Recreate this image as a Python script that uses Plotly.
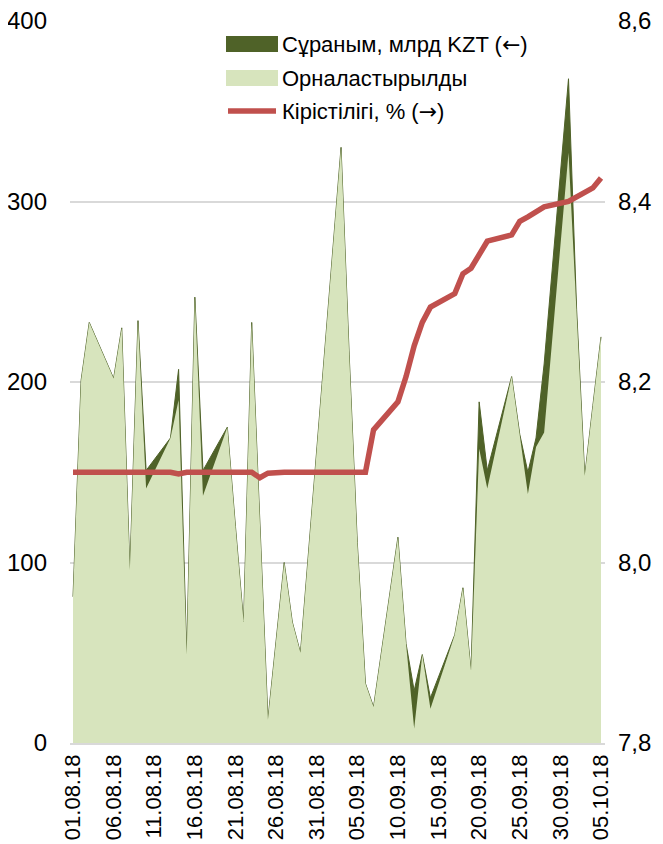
import plotly.graph_objects as go

dates = ["2018-08-01", "2018-08-02", "2018-08-03", "2018-08-06", "2018-08-07", "2018-08-08",
         "2018-08-09", "2018-08-10", "2018-08-13", "2018-08-14", "2018-08-15", "2018-08-16",
         "2018-08-17", "2018-08-20", "2018-08-21", "2018-08-22", "2018-08-23", "2018-08-24",
         "2018-08-25", "2018-08-27", "2018-08-28", "2018-08-29", "2018-09-03", "2018-09-04",
         "2018-09-05", "2018-09-06", "2018-09-07", "2018-09-10", "2018-09-11", "2018-09-12",
         "2018-09-13", "2018-09-14", "2018-09-17", "2018-09-18", "2018-09-19", "2018-09-20",
         "2018-09-21", "2018-09-24", "2018-09-25", "2018-09-26", "2018-09-27", "2018-09-28",
         "2018-10-01", "2018-10-02", "2018-10-03", "2018-10-04", "2018-10-05"]

demand = [81, 201, 233, 202, 230, 96, 234, 151, 169, 207, 49, 247, 151, 175, 120, 67, 233, 125,
          13, 100, 67, 50, 330, 215, 111, 33, 20, 114, 55, 29, 49, 25, 60, 86, 40, 189, 151, 203,
          171, 150, 169, 210, 368, 240, 148, 187, 225]

placed = [81, 201, 233, 202, 230, 96, 234, 141, 169, 190, 49, 247, 137, 175, 120, 67, 233, 125,
          13, 100, 67, 50, 330, 215, 111, 33, 20, 114, 55, 8, 49, 19, 60, 86, 40, 163, 141, 203,
          171, 138, 164, 172, 327, 238, 148, 187, 225]

yield_pct = [8.10, 8.10, 8.10, 8.10, 8.10, 8.10, 8.10, 8.10, 8.10, 8.098, 8.10, 8.10, 8.10, 8.10,
             8.10, 8.10, 8.10, 8.094, 8.099, 8.10, 8.10, 8.10, 8.10, 8.10, 8.10, 8.10, 8.147,
             8.178, 8.206, 8.24, 8.266, 8.283, 8.298, 8.32, 8.326, 8.34, 8.356, 8.363, 8.378,
             8.383, 8.389, 8.394, 8.40, 8.405, 8.41, 8.415, 8.426]

names = ["Сұраным, млрд KZT (←)", "Орналастырылды", "Кірістілігі, % (→)"]

DARK = "#4f6228"
LIGHT = "#d7e4bd"
RED = "#c0504d"
FONT = "Liberation Sans, Arial, sans-serif"
ARROWFONT = "DejaVu Sans"

# the page adds an 8px body margin, so figure coords = screen coords - 8
OFF = 8
W, H = 663, 844
PLOT_L, PLOT_R, PLOT_T, PLOT_B = 70, 605, 21, 743   # screen pixels
ML = PLOT_L - OFF
MT = PLOT_T - OFF
MR = W - (PLOT_R - OFF)
MB = H - (PLOT_B - OFF)
PW, PH = PLOT_R - PLOT_L, PLOT_B - PLOT_T


def px(x):
    return (x - PLOT_L) / PW


def py(y):
    return (PLOT_B - y) / PH


def legend_text(s):
    for a in ("←", "→"):
        s = s.replace(a, '<span style="font-family:%s">%s</span>' % (ARROWFONT, a))
    return s


fig = go.Figure()
fig.add_trace(go.Scatter(x=dates, y=demand, name=names[0], mode="lines", fill="tozeroy",
                         fillcolor=DARK, line=dict(color=DARK, width=1), showlegend=False))
fig.add_trace(go.Scatter(x=dates, y=placed, name=names[1], mode="lines", fill="tozeroy",
                         fillcolor=LIGHT, line=dict(color=LIGHT, width=0), showlegend=False))
fig.add_trace(go.Scatter(x=dates, y=yield_pct, name=names[2], mode="lines", yaxis="y2",
                         line=dict(color=RED, width=5.5), showlegend=False))

# manual legend
shapes = [
    dict(type="rect", xref="paper", yref="paper", x0=px(226), x1=px(278), y0=py(52), y1=py(36),
         fillcolor=DARK, line=dict(width=0)),
    dict(type="rect", xref="paper", yref="paper", x0=px(226), x1=px(278), y0=py(86), y1=py(70),
         fillcolor=LIGHT, line=dict(width=0)),
    dict(type="line", xref="paper", yref="paper", x0=px(228), x1=px(276), y0=py(111), y1=py(111),
         line=dict(color=RED, width=5.5)),
]
annotations = []
for name, yc in zip(names, [44, 78, 111]):
    annotations.append(dict(xref="paper", yref="paper", x=px(280), y=py(yc), text=legend_text(name),
                            showarrow=False, xanchor="left", yanchor="middle",
                            font=dict(family=FONT, size=22, color="#000")))

fig.update_layout(
    width=W, height=H, margin=dict(l=ML, r=MR, t=MT, b=MB, autoexpand=False),
    paper_bgcolor="white", plot_bgcolor="white",
    separators=", ",
    font=dict(family=FONT, size=24, color="#000"),
    shapes=shapes, annotations=annotations,
    xaxis=dict(type="date", range=["2018-07-31 15:08", "2018-10-05 11:49"],
               tick0="2018-08-01", dtick=5 * 86400000, tickformat="%d.%m.%y",
               tickangle=-90, showgrid=False, showline=True, linecolor="#d9d9d9",
               linewidth=1.5, ticks="", ticklabelstandoff=1, automargin=False,
               ticklabeloverflow="allow",
               tickfont=dict(family=FONT, size=22, color="#000")),
    yaxis=dict(range=[0, 400], dtick=100, showgrid=True, gridcolor="#d9d9d9", gridwidth=1.5,
               zeroline=False, showline=False, ticks="", ticklabelstandoff=22, automargin=False,
               ticklabeloverflow="allow",
               tickfont=dict(family=FONT, size=24, color="#000")),
    yaxis2=dict(range=[7.8, 8.6], dtick=0.2, tickformat=".1f", overlaying="y", side="right",
                showgrid=False, zeroline=False, showline=False, ticks="", ticklabelstandoff=12,
                automargin=False, ticklabeloverflow="allow",
                tickfont=dict(family=FONT, size=24, color="#000")),
)

fig.write_html("out.html")
